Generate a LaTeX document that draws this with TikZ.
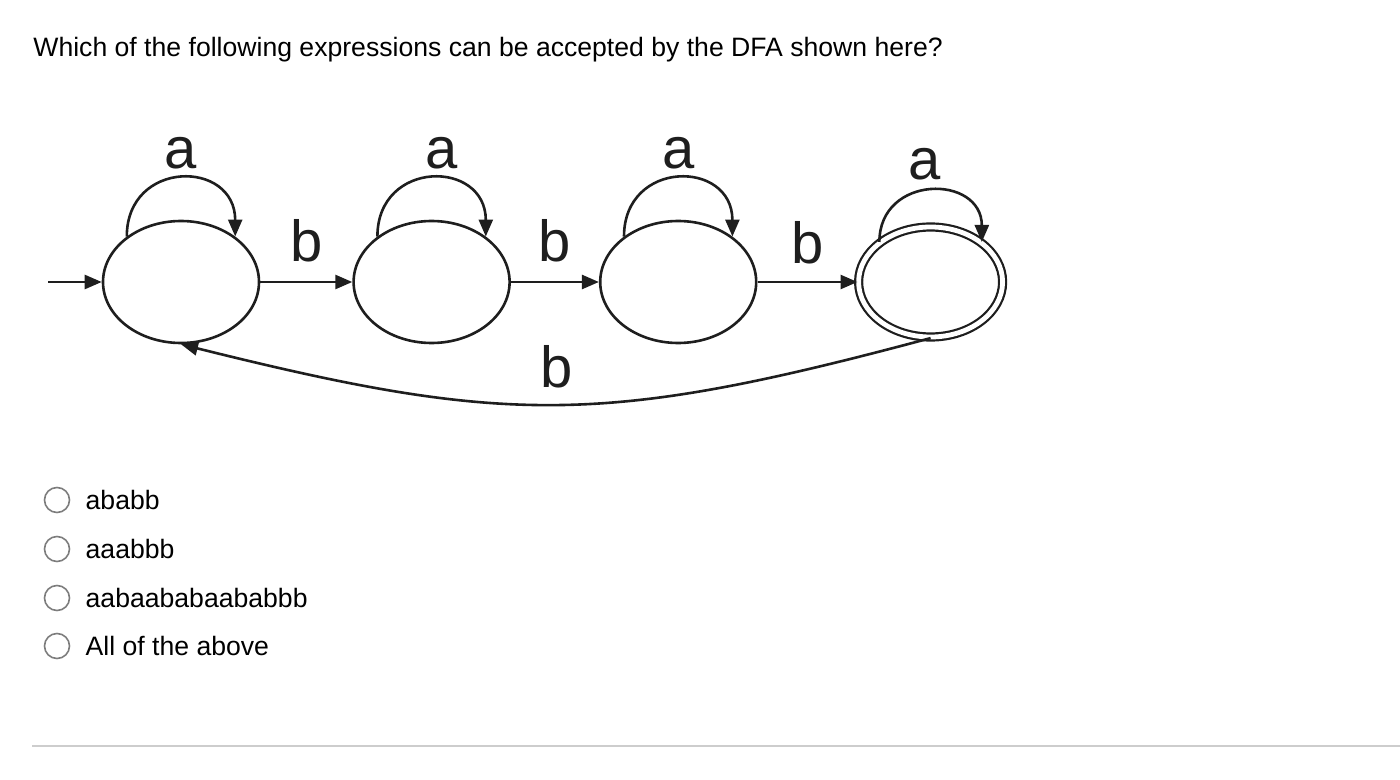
\documentclass[tikz,border=0pt]{standalone}
\usepackage{fontspec}
\setmainfont{Liberation Sans}
\usetikzlibrary{positioning}
\usetikzlibrary{shapes.geometric}
\usetikzlibrary{arrows.meta}
\definecolor{radiogray}{RGB}{125,125,125}
\definecolor{rulegray}{RGB}{205,205,205}
\definecolor{inkgray}{RGB}{30,30,30}

\begin{document}
\begin{tikzpicture}[
    x=0.5pt, y=-0.5pt,
    state/.style={ellipse, draw=inkgray, line width=1.3pt, inner sep=0pt, minimum width=78pt, minimum height=61pt},
    accept/.style={state, line width=1.1pt, double, double distance=2.4pt, minimum width=72pt, minimum height=55pt},
    trans/.style={-{Triangle[length=8.5pt,width=7pt]}, line width=1.3pt, inkgray},
    sym/.style={font=\fontsize{29}{29}\selectfont, text=inkgray, inner sep=1pt},
    radio/.style={circle, draw=radiogray, line width=0.8pt, inner sep=0pt, minimum size=12.5pt},
    choice/.style={font=\fontsize{13.3}{16}\selectfont, inner sep=0pt}
]
\useasboundingbox (0,0) rectangle (1400,780);

% Question
\node[anchor=base west, inner sep=0pt, font=\fontsize{13.3}{16}\selectfont] (question) at (33,57) {Which of the following expressions can be accepted by the DFA shown here?};

% States
\node[state] (s0) at (181,282) {};
\node[state] (s1) [right=46pt of s0] {};
\node[state] (s2) [right=44pt of s1] {};
\node[accept] (s3) [right=50pt of s2] {};
\coordinate (start) at (48,282);

% Transitions
\draw[trans] (start) -- (s0);
\draw[trans] (s0) -- node[sym, above=8.5pt] {b} (s1);
\draw[trans] (s1) -- node[sym, above=8.5pt] {b} (s2);
\draw[trans] (s2) -- node[sym, above=7.5pt] {b} (s3);
\draw[trans] (s3.south) to[out=195, in=-14, looseness=1.15] node[sym, above=6.5pt] {b} (s0.south);

% Self loops
\draw[trans] (s0.140) to[out=90, in=90, looseness=1.83] node[sym, above=3pt] {a} (s0.40);
\draw[trans] (s1.140) to[out=90, in=90, looseness=1.83] node[sym, above=3pt, xshift=5pt] {a} (s1.40);
\draw[trans] (s2.140) to[out=90, in=90, looseness=1.83] node[sym, above=3pt] {a} (s2.40);
\draw[trans] (s3.142) to[out=90, in=90, looseness=1.7] node[sym, above=4pt, xshift=-3pt] {a} (s3.38);

% Choices
\node[radio] (r1) at (57,500) {};
\node[radio] (r2) at (57,549) {};
\node[radio] (r3) at (57,598) {};
\node[radio] (r4) at (57,646) {};
\node[choice, right=7.5pt of r1] (c1) {ababb};
\node[choice, right=7.5pt of r2] (c2) {aaabbb};
\node[choice, right=7.5pt of r3] (c3) {aabaababaababbb};
\node[choice, right=7.5pt of r4] (c4) {All of the above};

% Separator
\coordinate (ruleleft) at (32,746);
\coordinate (ruleright) at (1400,746);
\draw[rulegray, line width=1pt] (ruleleft) -- (ruleright);

\end{tikzpicture}
\end{document}
